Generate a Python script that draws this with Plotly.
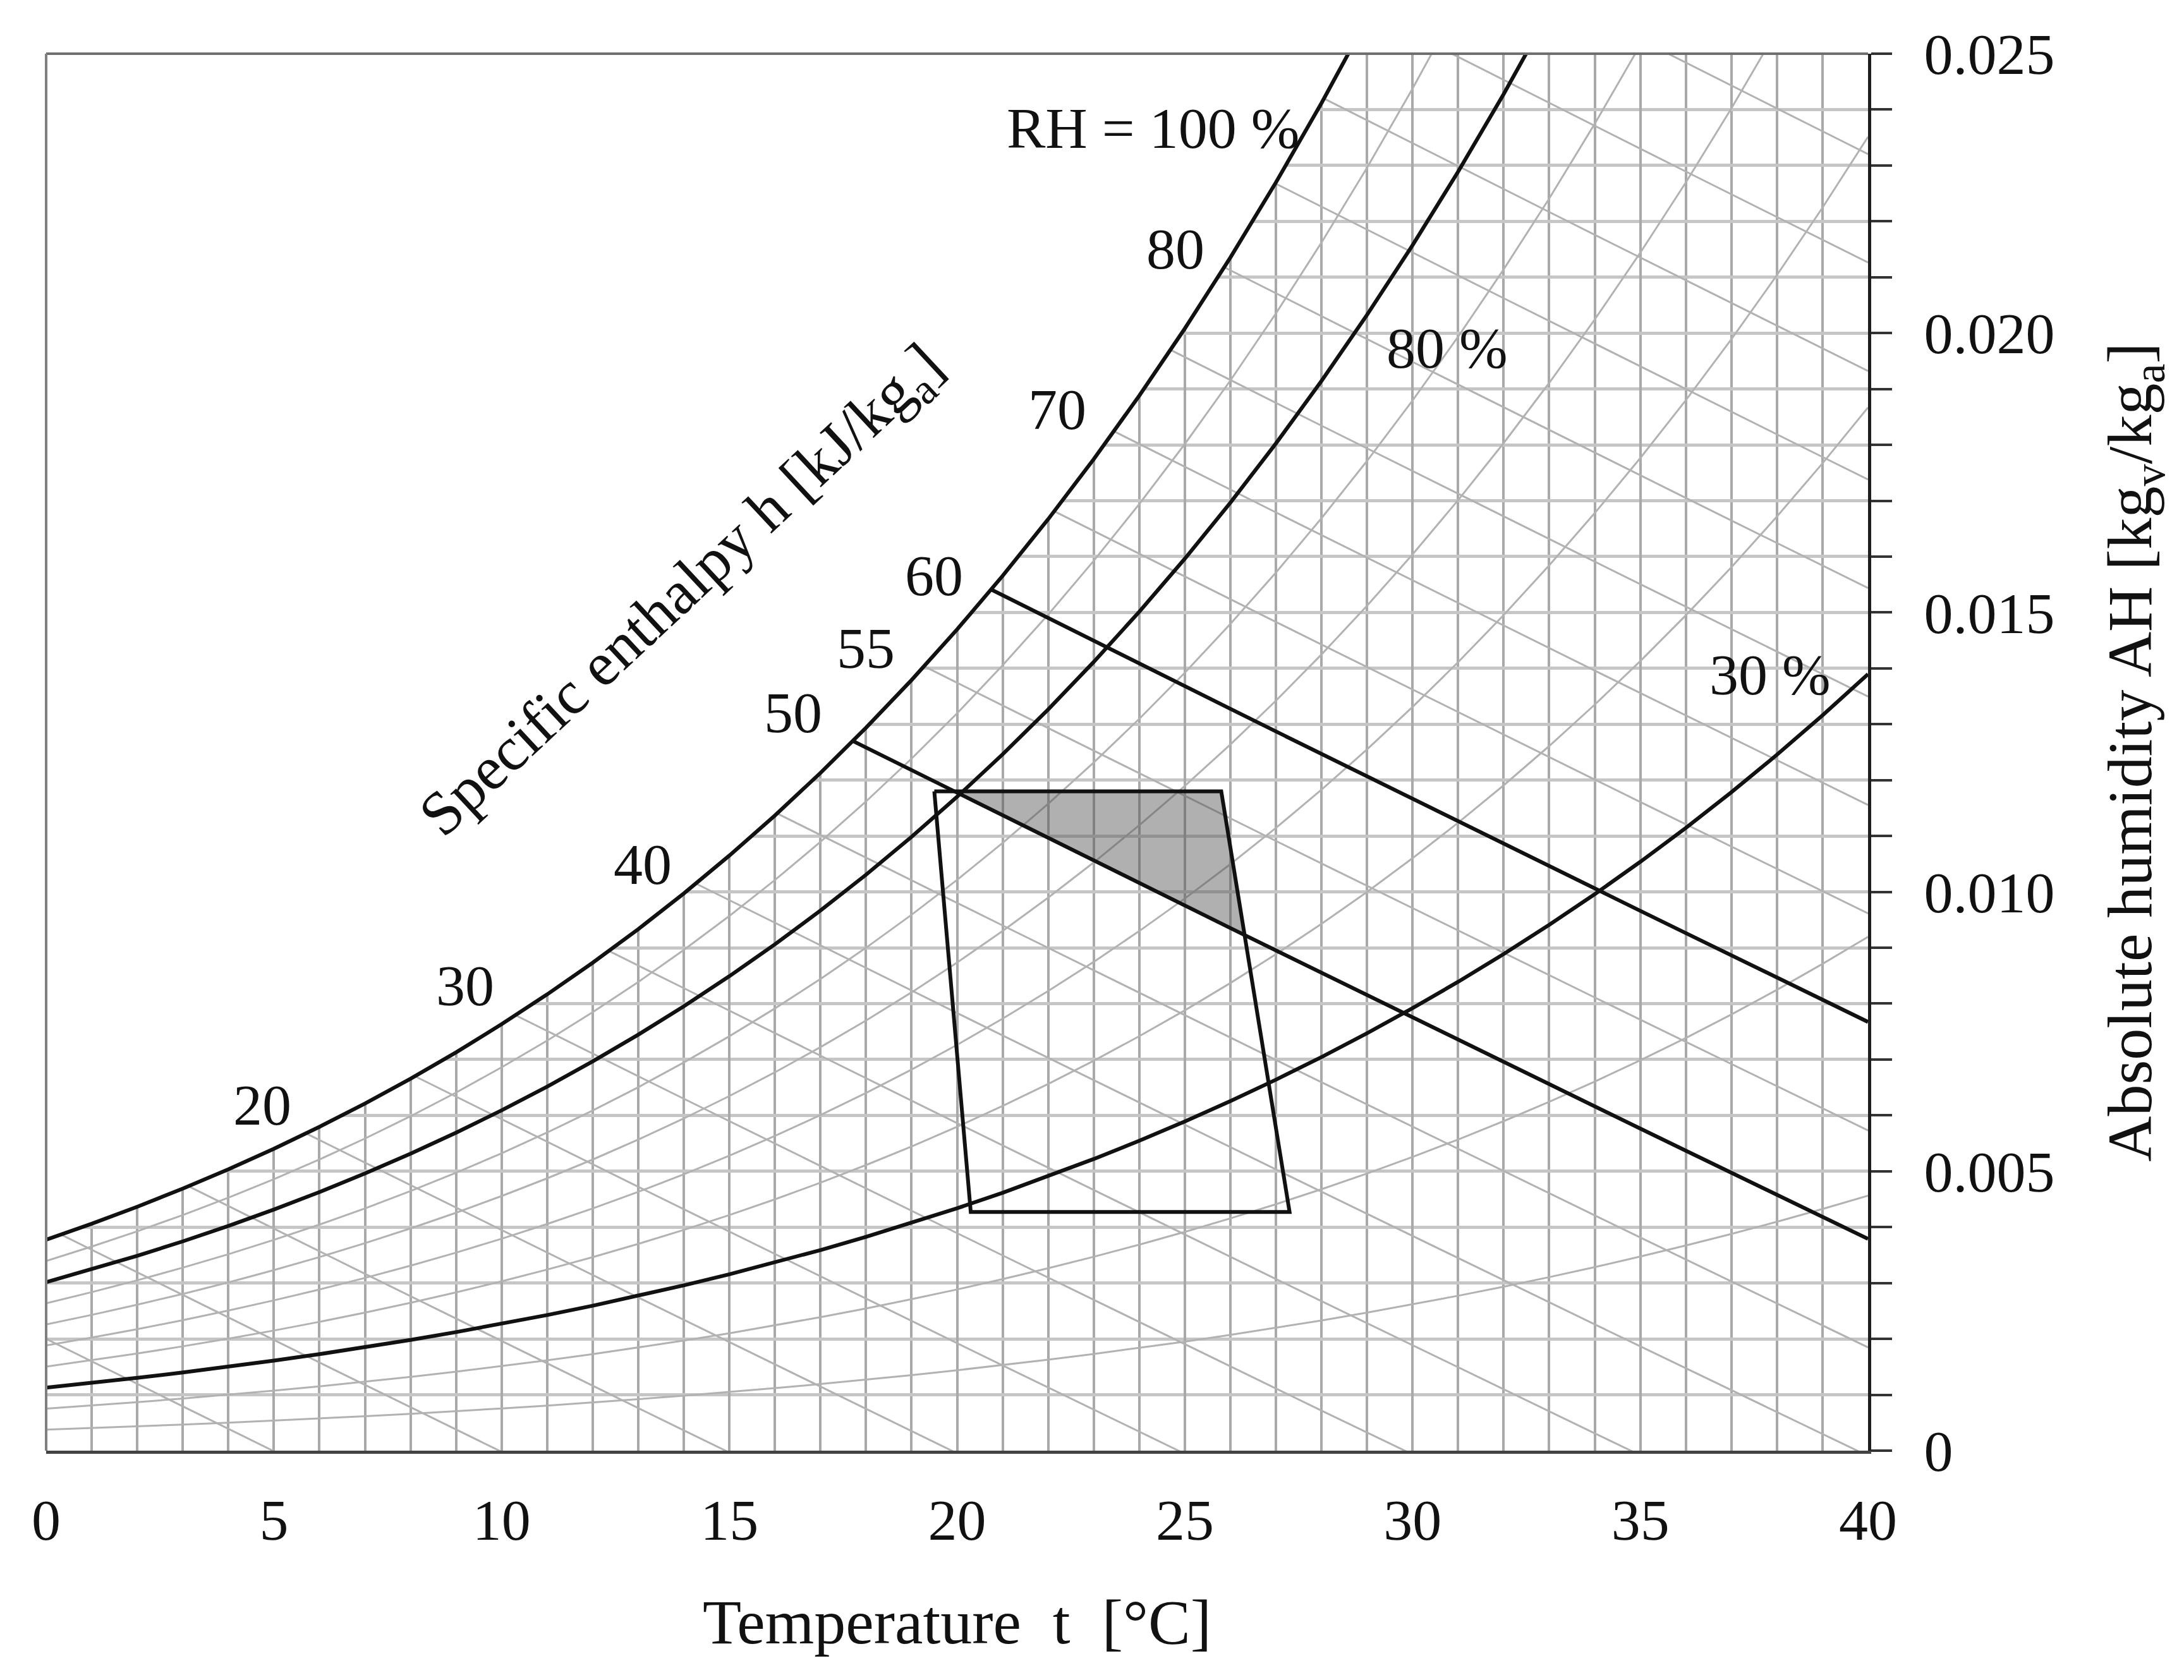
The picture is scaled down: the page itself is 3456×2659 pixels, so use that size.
import numpy as np
import plotly.graph_objects as go

# psychrometric chart at sea level pressure
P_ATM = 101.325  # kPa

temps = list(range(0, 41))  # degC
# saturation vapour pressure of water, kPa (steam table, 0..40 degC)
p_sat_kpa = [0.6112, 0.6571, 0.7060, 0.7581, 0.8135, 0.8725, 0.9353, 1.0020,
             1.0729, 1.1481, 1.2281, 1.3129, 1.4027, 1.4979, 1.5988, 1.7056,
             1.8185, 1.9380, 2.0644, 2.1978, 2.3388, 2.4877, 2.6447, 2.8104,
             2.9850, 3.1690, 3.3629, 3.5670, 3.7818, 4.0078, 4.2455, 4.4953,
             4.7578, 5.0335, 5.3229, 5.6267, 5.9453, 6.2795, 6.6298, 6.9969,
             7.3814]

rh_grey = [10, 20, 40, 50, 60, 70, 90]
rh_black = [30, 80, 100]
h_grey = [5, 10, 15, 20, 25, 30, 35, 40, 45, 55, 65, 70, 75, 80, 85, 90, 95, 100]
h_black = [50, 60]

# comfort zone outline and the part of it above h = 50 kJ/kg
zone_t = [19.5, 25.8, 27.3, 20.3]
zone_w = [0.0118, 0.0118, 0.00427, 0.00427]
shade_t = [19.93, 25.8, 26.31]
shade_w = [0.0118, 0.0118, 0.00924]

# enthalpy labels along the saturation curve
h_lab = ["20", "30", "40", "50", "55", "60", "70", "80"]
h_lab_t = [4.75, 9.2, 13.1, 16.4, 18.0, 19.5, 22.2, 24.8]
h_lab_w = [0.00619, 0.00832, 0.01049, 0.01321, 0.01436, 0.01566, 0.01863, 0.02151]

FONT = "Liberation Serif"
INK = "#111111"

t_arr = np.array(temps, dtype=float)
ps_arr = np.array(p_sat_kpa)


def hum(rh):
    pv = rh / 100.0 * ps_arr
    return 0.622 * pv / (P_ATM - pv)


def hline(h):
    return (h - 1.006 * t_arr) / (2501.0 + 1.86 * t_arr)


fig = go.Figure()

for h in h_grey:
    fig.add_trace(go.Scatter(x=temps, y=hline(h), mode="lines",
                             line=dict(color="#b2b2b2", width=3), hoverinfo="skip"))
for rh in rh_grey:
    fig.add_trace(go.Scatter(x=temps, y=hum(rh), mode="lines",
                             line=dict(color="#b2b2b2", width=3), hoverinfo="skip"))

# the comfort zone shading sits under the lines
fig.add_trace(go.Scatter(x=shade_t, y=shade_w, fill="toself",
                         fillcolor="rgba(80,80,80,0.45)", mode="none",
                         hoverinfo="skip"))

for h in h_black:
    fig.add_trace(go.Scatter(x=temps, y=hline(h), mode="lines",
                             line=dict(color=INK, width=6), hoverinfo="skip"))

# blank out everything above the saturation line
w_sat = hum(100)
cut = 30
fig.add_trace(go.Scatter(x=temps[:cut] + [temps[cut - 1], 0],
                         y=list(w_sat[:cut]) + [0.03, 0.03],
                         fill="toself", fillcolor="white", mode="none",
                         hoverinfo="skip"))

for rh in rh_black:
    fig.add_trace(go.Scatter(x=temps, y=hum(rh), mode="lines",
                             line=dict(color=INK, width=6), hoverinfo="skip"))

fig.add_trace(go.Scatter(x=zone_t + zone_t[:1], y=zone_w + zone_w[:1], mode="lines",
                         line=dict(color=INK, width=6), hoverinfo="skip"))

lab_font = dict(family=FONT, size=92, color=INK)
for txt, tx, wy in zip(h_lab, h_lab_t, h_lab_w):
    fig.add_annotation(x=tx, y=wy, text=txt, showarrow=False, font=lab_font)
fig.add_annotation(x=24.3, y=0.02367, text="RH = 100 %", showarrow=False, font=lab_font)
fig.add_annotation(x=30.76, y=0.01973, text="80 %", showarrow=False, font=lab_font)
fig.add_annotation(x=37.85, y=0.01388, text="30 %", showarrow=False, font=lab_font)
fig.add_annotation(x=14.0, y=0.01535, text="Specific enthalpy h [kJ/kg<sub>a</sub>]",
                   showarrow=False, textangle=-43, font=dict(family=FONT, size=98, color=INK))

# grey top and left frame lines
fig.add_shape(type="line", xref="paper", yref="paper", x0=0, x1=1, y0=1, y1=1,
              line=dict(color="#6e6e6e", width=4), layer="above")
fig.add_shape(type="line", xref="paper", yref="paper", x0=0, x1=0, y0=0, y1=1,
              line=dict(color="#808080", width=4), layer="above")

fig.update_layout(
    width=3456, height=2659,
    margin=dict(l=65, r=508, t=77, b=371),
    paper_bgcolor="white", plot_bgcolor="white",
    showlegend=False,
    font=dict(family=FONT, color=INK),
    xaxis=dict(
        range=[0, 40], tickmode="linear", tick0=0, dtick=5,
        showgrid=True, gridcolor="#a9a9a9", gridwidth=3.5,
        minor=dict(tickmode="linear", tick0=0, dtick=1, showgrid=True,
                   gridcolor="#a9a9a9", gridwidth=3.5),
        showline=True, linecolor="#434343", linewidth=5,
        ticks="", ticklabelstandoff=26,
        tickfont=dict(family=FONT, size=92, color=INK),
        zeroline=False,
        title=dict(text="Temperature\u00a0 t \u00a0[°C]", standoff=76,
                   font=dict(family=FONT, size=100, color=INK)),
    ),
    yaxis=dict(
        range=[0, 0.025], side="right",
        tickmode="array", tickvals=[0, 0.005, 0.01, 0.015, 0.02, 0.025],
        ticktext=["0", "0.005", "0.010", "0.015", "0.020", "0.025"],
        showgrid=True, gridcolor="#c6c6c6", gridwidth=5,
        minor=dict(tickmode="linear", tick0=0, dtick=0.001, showgrid=True,
                   gridcolor="#c6c6c6", gridwidth=5, ticks="outside",
                   ticklen=33, tickwidth=4, tickcolor="#333333"),
        ticks="outside", ticklen=33, tickwidth=4, tickcolor="#333333",
        showline=True, linecolor="#1e1e1e", linewidth=5,
        ticklabelstandoff=32,
        tickfont=dict(family=FONT, size=92, color=INK),
        zeroline=False,
        title=dict(text="Absolute humidity AH [kg<sub>v</sub>/kg<sub>a</sub>]", standoff=85,
                   font=dict(family=FONT, size=100, color=INK)),
    ),
)

fig.write_html("out.html")
